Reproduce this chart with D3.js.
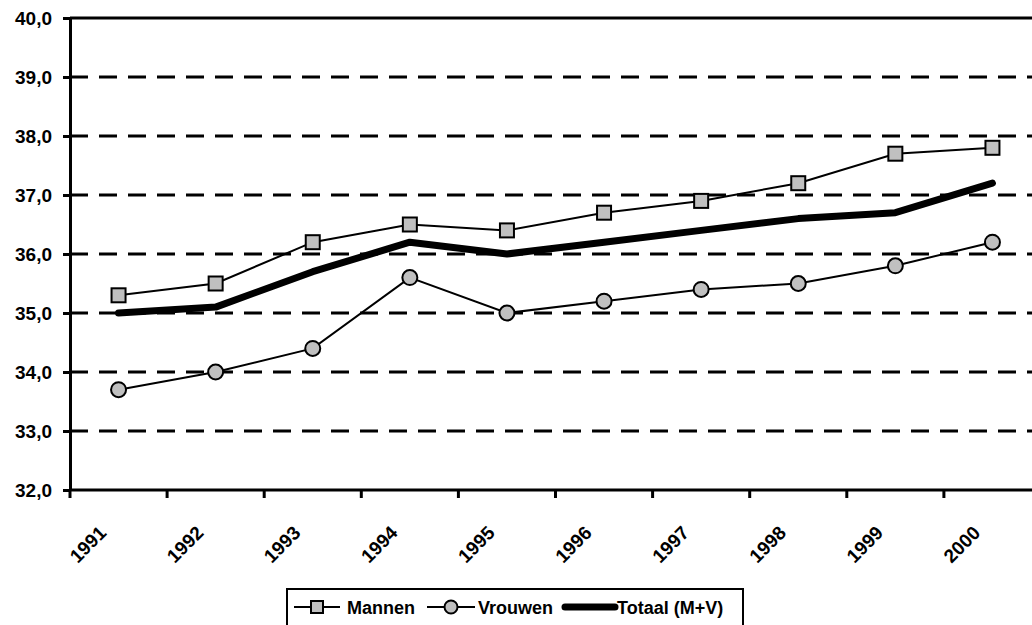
<!DOCTYPE html>
<html>
<head>
<meta charset="utf-8">
<script src="https://cdn.jsdelivr.net/npm/d3@7"></script>
<style>
  html, body { margin: 0; padding: 0; background: #fff; }
  svg { display: block; font-family: "Liberation Sans", Arial, sans-serif; font-weight: bold; }
</style>
</head>
<body>
<svg id="chart" width="1032" height="625"></svg>
<script>
// age series per year
const years = ["1991", "1992", "1993", "1994", "1995", "1996", "1997", "1998", "1999", "2000"];
const mannen = [35.3, 35.5, 36.2, 36.5, 36.4, 36.7, 36.9, 37.2, 37.7, 37.8];
const vrouwen = [33.7, 34.0, 34.4, 35.6, 35.0, 35.2, 35.4, 35.5, 35.8, 36.2];
const totaal = [35.0, 35.1, 35.7, 36.2, 36.0, 36.2, 36.4, 36.6, 36.7, 37.2];
const yTicks = [32, 33, 34, 35, 36, 37, 38, 39, 40];
const legendLabels = ["Mannen", "Vrouwen", "Totaal (M+V)"];

const svg = d3.select("#chart");

// plot frame; the right edge runs past the window like the reference
const L = 70, R = 1041, T = 18, B = 490;

const x = d3.scaleBand().domain(years).range([L, R]).padding(0);
const y = d3.scaleLinear().domain([32, 40]).range([B, T]);
const fmt = (d) => d3.format(".1f")(d).replace(".", ",");

// gridlines (dashed), 40 is the solid top border
svg.append("g")
  .selectAll("line")
  .data(yTicks.filter((d) => d > 32 && d < 40))
  .join("line")
  .attr("x1", L).attr("x2", R)
  .attr("y1", (d) => y(d)).attr("y2", (d) => y(d))
  .attr("stroke", "#000").attr("stroke-width", 3)
  .attr("stroke-dasharray", "18,11");

svg.append("line")
  .attr("x1", L).attr("x2", R).attr("y1", y(40)).attr("y2", y(40))
  .attr("stroke", "#000").attr("stroke-width", 3);

// y axis
const gy = svg.append("g").attr("transform", `translate(${L},0)`)
  .call(d3.axisLeft(y).tickValues(yTicks).tickFormat(fmt).tickSize(7).tickPadding(11).tickSizeOuter(0));
gy.select(".domain").attr("stroke-width", 3);
gy.selectAll(".tick line").attr("stroke-width", 3);
gy.selectAll(".tick text").attr("font-size", 19).attr("font-family", "Liberation Sans, Arial, sans-serif").attr("font-weight", "bold").attr("fill", "#000");

// x axis: ticks at band edges, labels at band centers rotated
const gx = svg.append("g").attr("transform", `translate(0,${B})`);
gx.append("line").attr("x1", L).attr("x2", R).attr("stroke", "#000").attr("stroke-width", 3);
gx.selectAll("line.tk")
  .data(years)
  .join("line")
  .attr("class", "tk")
  .attr("x1", (d) => x(d)).attr("x2", (d) => x(d))
  .attr("y1", 0).attr("y2", 8)
  .attr("stroke", "#000").attr("stroke-width", 3);
gx.selectAll("text")
  .data(years)
  .join("text")
  .attr("text-anchor", "end")
  .attr("font-size", 19)
  .attr("transform", (d) => `translate(${x(d) + x.bandwidth() / 2 - 11},${44}) rotate(-45)`)
  .text((d) => d);

const cx = (i) => x(years[i]) + x.bandwidth() / 2;
const line = d3.line().x((d, i) => cx(i)).y((d) => y(d));

// series lines
svg.append("path").attr("d", line(mannen)).attr("fill", "none").attr("stroke", "#000").attr("stroke-width", 2);
svg.append("path").attr("d", line(vrouwen)).attr("fill", "none").attr("stroke", "#000").attr("stroke-width", 2);
svg.append("path").attr("d", line(totaal)).attr("fill", "none").attr("stroke", "#000").attr("stroke-width", 7)
  .attr("stroke-linecap", "round").attr("stroke-linejoin", "round");

// markers
svg.append("g").selectAll("rect")
  .data(mannen)
  .join("rect")
  .attr("x", (d, i) => cx(i) - 7).attr("y", (d) => y(d) - 7)
  .attr("width", 14).attr("height", 14)
  .attr("fill", "#c0c0c0").attr("stroke", "#000").attr("stroke-width", 2);
svg.append("g").selectAll("circle")
  .data(vrouwen)
  .join("circle")
  .attr("cx", (d, i) => cx(i)).attr("cy", (d) => y(d)).attr("r", 7.5)
  .attr("fill", "#c0c0c0").attr("stroke", "#000").attr("stroke-width", 2);

// legend
const lg = svg.append("g");
lg.append("rect").attr("x", 287).attr("y", 589).attr("width", 456).attr("height", 50)
  .attr("fill", "#fff").attr("stroke", "#000").attr("stroke-width", 2);
const ly = 607;
const items = [
  { x1: 294, x2: 340, tx: 347, w: 2, mark: "rect" },
  { x1: 427, x2: 475, tx: 478, w: 2, mark: "circle" },
  { x1: 565, x2: 615, tx: 617, w: 7, mark: null },
];
items.forEach((it, i) => {
  lg.append("line").attr("x1", it.x1).attr("x2", it.x2).attr("y1", ly).attr("y2", ly)
    .attr("stroke", "#000").attr("stroke-width", it.w).attr("stroke-linecap", it.w > 2 ? "round" : "butt");
  const mx = (it.x1 + it.x2) / 2;
  if (it.mark === "rect") {
    lg.append("rect").attr("x", mx - 6).attr("y", ly - 6).attr("width", 12).attr("height", 12)
      .attr("fill", "#c0c0c0").attr("stroke", "#000").attr("stroke-width", 2);
  } else if (it.mark === "circle") {
    lg.append("circle").attr("cx", mx).attr("cy", ly).attr("r", 6.5)
      .attr("fill", "#c0c0c0").attr("stroke", "#000").attr("stroke-width", 2);
  }
  lg.append("text").attr("x", it.tx).attr("y", ly + 7).attr("font-size", 18).text(legendLabels[i]);
});
</script>
</body>
</html>
